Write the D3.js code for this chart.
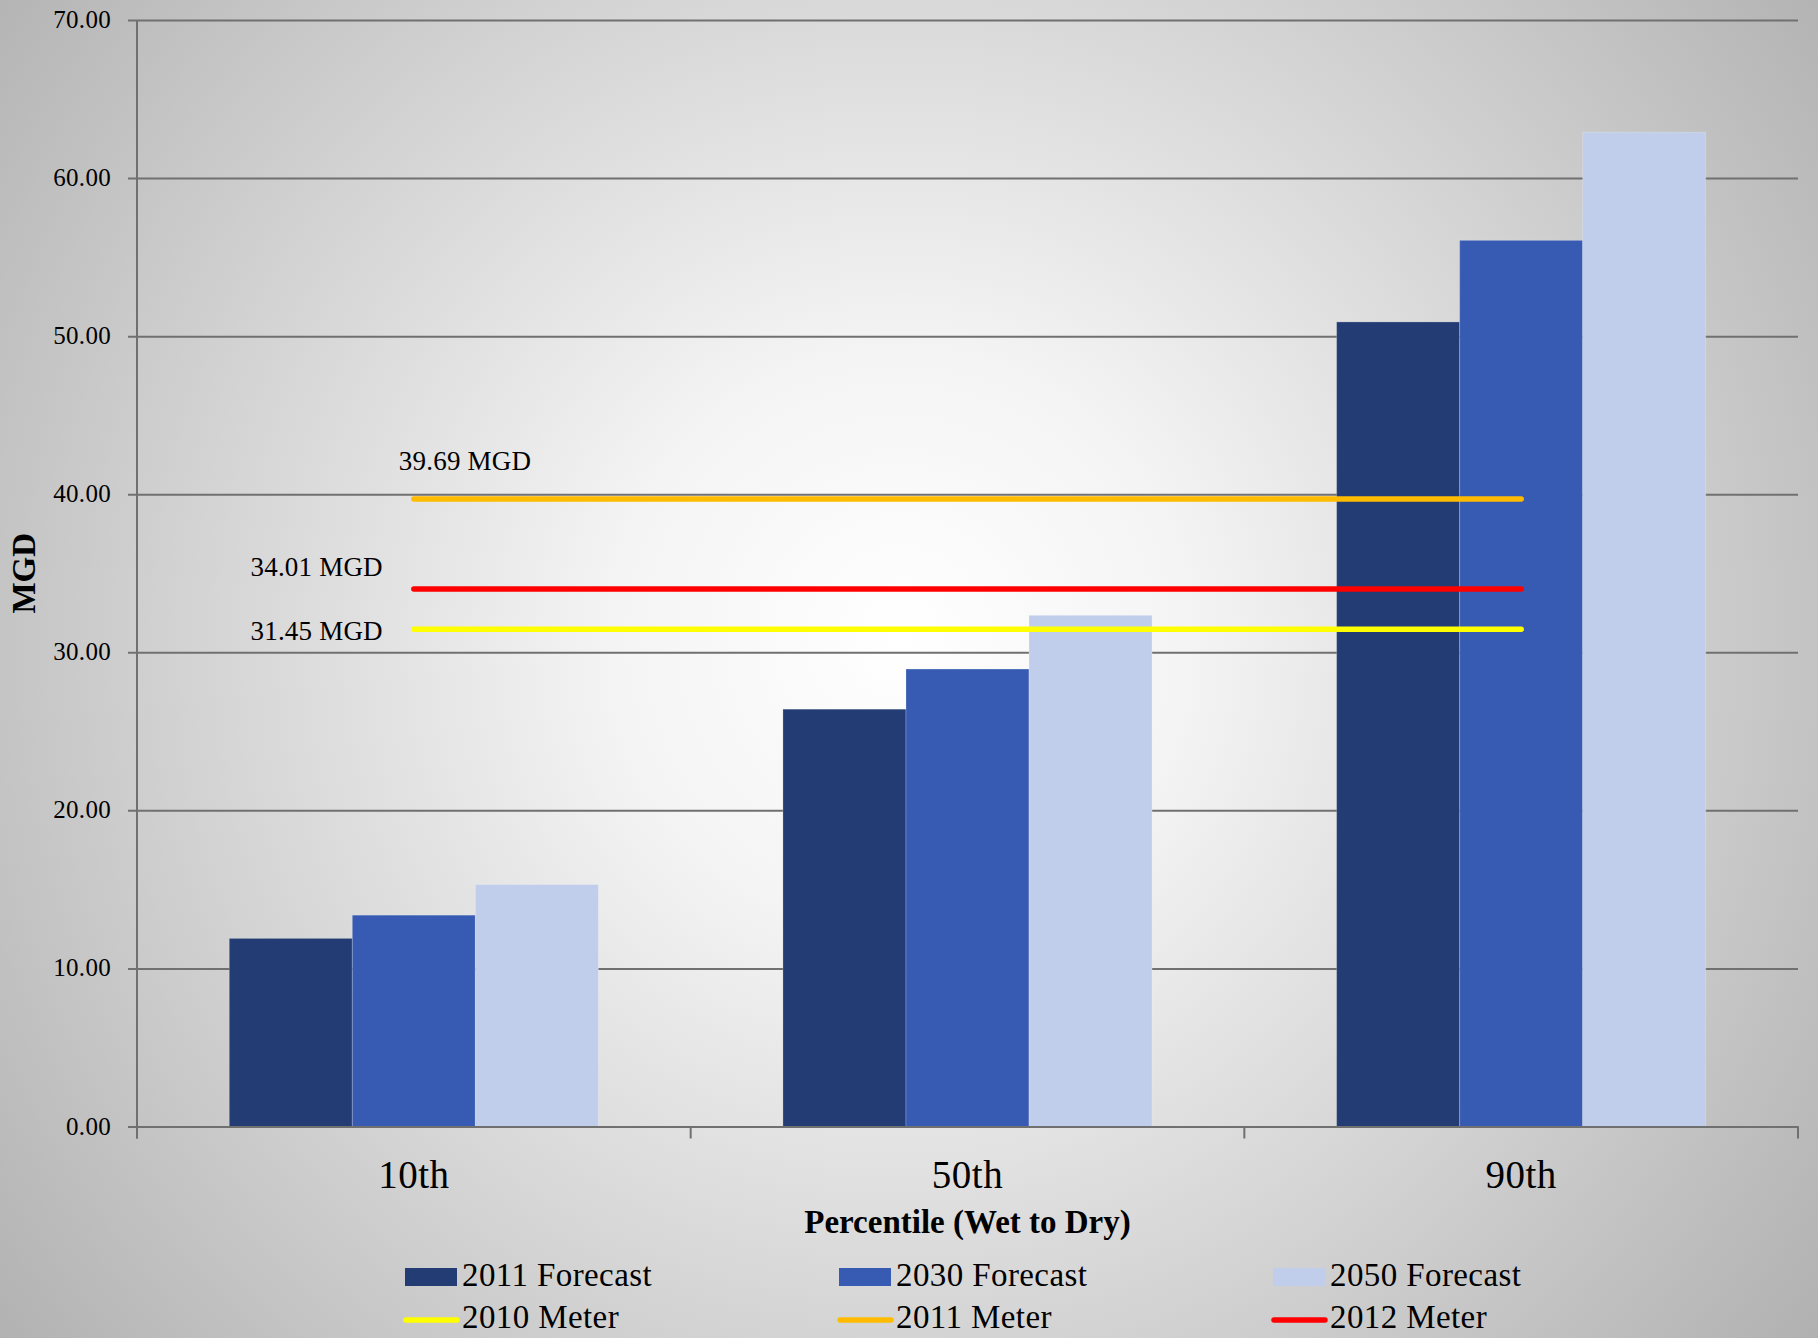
<!DOCTYPE html>
<html>
<head>
<meta charset="utf-8">
<script src="https://cdn.jsdelivr.net/npm/d3@7"></script>
<style>
  html, body { margin: 0; padding: 0; background: #c8c8c8; }
  svg { display: block; }
  text { font-family: "Liberation Serif", "Times New Roman", serif; fill: #000; }
</style>
</head>
<body>
<script>
// Demand forecasts by percentile (MGD)
const categories = ["10th", "50th", "90th"];
const seriesNames = ["2011 Forecast", "2030 Forecast", "2050 Forecast"];
const forecast2011 = [11.9, 26.4, 50.9];
const forecast2030 = [13.37, 28.94, 56.06];
const forecast2050 = [15.31, 32.34, 62.9];

// Metered usage reference lines
const meterNames = ["2010 Meter", "2011 Meter", "2012 Meter"];
const meterValues = [31.45, 39.69, 34.01];
const meterLabels = ["31.45 MGD", "39.69 MGD", "34.01 MGD"];

const yTicks = [0, 10, 20, 30, 40, 50, 60, 70];

const barColors = ["#233c73", "#375bb2", "#c0ceeb"];
const meterColors = ["#ffff00", "#ffbb00", "#ff0000"];

const width = 1818, height = 1338;
const margin = { left: 137, right: 20, top: 20, bottom: 211.5 };
const W = width - margin.left - margin.right;
const H = height - margin.top - margin.bottom;

const svg = d3.select("body").append("svg")
  .attr("width", width).attr("height", height);

// radial background
const defs = svg.append("defs");
const grad = defs.append("radialGradient")
  .attr("id", "bg").attr("gradientUnits", "userSpaceOnUse")
  .attr("cx", 900).attr("cy", 640).attr("r", 1150);
grad.append("stop").attr("offset", "0").attr("stop-color", "#ffffff");
grad.append("stop").attr("offset", "0.25").attr("stop-color", "#f4f4f4");
grad.append("stop").attr("offset", "1").attr("stop-color", "#b1b1b1");
svg.append("rect").attr("width", width).attr("height", height).attr("fill", "url(#bg)");

const g = svg.append("g").attr("transform", `translate(${margin.left},${margin.top})`);

const x = d3.scaleBand().domain(categories).range([0, W]).paddingInner(0).paddingOuter(0);
const bw = x.bandwidth();
const xs = d3.scaleBand().domain(seriesNames).range([bw / 6, bw * 5 / 6]).padding(0);
const y = d3.scaleLinear().domain([0, 70]).range([H, 0]);

// gridlines + y axis
const yAxis = d3.axisLeft(y).tickValues(yTicks).tickFormat(d3.format(".2f")).tickSizeOuter(0);
const yg = g.append("g").call(yAxis);
yg.select(".domain").remove();
yg.selectAll(".tick line")
  .attr("x1", -9).attr("x2", W)
  .attr("stroke", "#707070").attr("stroke-width", 2);
yg.selectAll(".tick text")
  .attr("x", -26).attr("dy", "0.3em")
  .style("font-size", "25px").style("font-family", "Liberation Serif, serif")
  .style("letter-spacing", "0.3px").attr("fill", "#000");
g.append("line").attr("x1", 0).attr("x2", 0).attr("y1", 0).attr("y2", H + 12)
  .attr("stroke", "#707070").attr("stroke-width", 2);

// bars
const seriesData = [forecast2011, forecast2030, forecast2050];
seriesData.forEach((vals, si) => {
  g.append("g").selectAll("rect").data(vals).join("rect")
    .attr("x", (d, i) => x(categories[i]) + xs(seriesNames[si]))
    .attr("width", xs.bandwidth())
    .attr("y", d => y(d))
    .attr("height", d => H - y(d))
    .attr("fill", barColors[si])
    .attr("stroke", "rgba(255,255,255,0.22)")
    .attr("stroke-width", 1);
});

// x axis
const xAxis = d3.axisBottom(x).tickSize(0).tickPadding(0);
const xg = g.append("g").attr("transform", `translate(0,${H})`).call(xAxis);
xg.select(".domain").attr("stroke", "#707070").attr("stroke-width", 2);
xg.selectAll(".tick text")
  .attr("y", 61).attr("dy", 0)
  .style("font-size", "39px").style("font-family", "Liberation Serif, serif")
  .style("letter-spacing", "0.5px").attr("fill", "#000");
const bounds = [0].concat(categories.map(c => x(c) + bw));
g.append("g").selectAll("line").data(bounds).join("line")
  .attr("x1", d => d).attr("x2", d => d).attr("y1", H).attr("y2", H + 12)
  .attr("stroke", "#707070").attr("stroke-width", 2);

// meter reference lines
const lineStart = x(categories[0]) + bw / 2;
const lineEnd = x(categories[categories.length - 1]) + bw / 2;
meterValues.forEach((v, i) => {
  g.append("line")
    .attr("x1", lineStart).attr("x2", lineEnd)
    .attr("y1", y(v)).attr("y2", y(v))
    .attr("stroke", meterColors[i]).attr("stroke-width", 5.5)
    .attr("stroke-linecap", "round");
});

// meter value labels
const labelPlacement = [
  { dx: -31, dy: 11, anchor: "end" },
  { dx: -15, dy: -29, anchor: "start" },
  { dx: -31, dy: -13, anchor: "end" }
];
meterValues.forEach((v, i) => {
  const p = labelPlacement[i];
  g.append("text")
    .attr("x", lineStart + p.dx).attr("y", y(v) + p.dy)
    .attr("text-anchor", p.anchor)
    .style("font-size", "27px").style("letter-spacing", "0.2px")
    .text(meterLabels[i]);
});

// axis titles
svg.append("text")
  .attr("x", margin.left + W / 2).attr("y", 1233)
  .attr("text-anchor", "middle")
  .style("font-size", "33px").style("font-weight", "bold")
  .text("Percentile (Wet to Dry)");
svg.append("text")
  .attr("transform", `translate(35,${margin.top + H / 2}) rotate(-90)`)
  .attr("text-anchor", "middle")
  .style("font-size", "33px").style("font-weight", "bold")
  .text("MGD");

// legend
const legendX = [405, 839, 1273];
const legend = svg.append("g");
seriesNames.forEach((name, i) => {
  legend.append("rect").attr("x", legendX[i]).attr("y", 1268).attr("width", 52).attr("height", 18)
    .attr("fill", barColors[i]);
  legend.append("text").attr("x", legendX[i] + 57).attr("y", 1286)
    .style("font-size", "33px").style("letter-spacing", "0.4px").text(name);
});
meterNames.forEach((name, i) => {
  legend.append("line").attr("x1", legendX[i] + 1).attr("x2", legendX[i] + 52)
    .attr("y1", 1320).attr("y2", 1320)
    .attr("stroke", meterColors[i]).attr("stroke-width", 5.5).attr("stroke-linecap", "round");
  legend.append("text").attr("x", legendX[i] + 57).attr("y", 1328)
    .style("font-size", "33px").style("letter-spacing", "0.4px").text(name);
});
</script>
</body>
</html>
